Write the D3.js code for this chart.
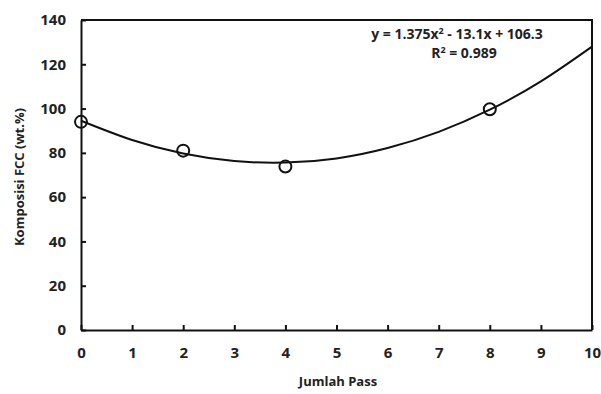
<!DOCTYPE html>
<html>
<head>
<meta charset="utf-8">
<script src="https://cdn.jsdelivr.net/npm/d3@7"></script>
<style>
  body { margin: 0; background: #fff; }
  text { font-family: "Open Sans", sans-serif; font-weight: bold; fill: #222; }
</style>
</head>
<body>
<script>
// measured points
const passes = [0, 2, 4, 8];
const fccValues = [94, 81, 73.8, 99.7];

// trendline
const trendX = [0, 1, 2, 3, 4, 5, 6, 7, 8, 9, 10];
const trendY = [94.5, 85.8, 79.7, 76.3, 75.6, 77.5, 82.2, 89.5, 99.5, 112.3, 128];

const xTicks = [0, 1, 2, 3, 4, 5, 6, 7, 8, 9, 10];
const yTicks = [0, 20, 40, 60, 80, 100, 120, 140];

const w = 601, h = 394;
const margin = {left: 81, right: 9, top: 20, bottom: 64};

const svg = d3.select("body").append("svg")
    .attr("width", w)
    .attr("height", h);

const xScale = d3.scaleLinear()
    .domain([0, 10])
    .range([margin.left, w - margin.right]);

const yScale = d3.scaleLinear()
    .domain([0, 140])
    .range([h - margin.bottom, margin.top]);

// box top + right
svg.append("path")
    .attr("d", "M" + xScale(0) + "," + yScale(140) + "H" + xScale(10) + "V" + yScale(0))
    .attr("fill", "none")
    .attr("stroke", "#111")
    .attr("stroke-width", 2);

const xAxis = d3.axisBottom(xScale).tickValues(xTicks).tickSizeInner(-5).tickSizeOuter(0).tickPadding(17);
const yAxis = d3.axisLeft(yScale).tickValues(yTicks).tickSizeInner(-5).tickSizeOuter(0).tickPadding(15);

const gx = svg.append("g")
    .attr("transform", "translate(0," + yScale(0) + ")")
    .call(xAxis);
const gy = svg.append("g")
    .attr("transform", "translate(" + xScale(0) + ",0)")
    .call(yAxis);

[gx, gy].forEach(g => {
    g.select(".domain").attr("stroke", "#111").attr("stroke-width", 2);
    g.selectAll(".tick line").attr("stroke", "#111").attr("stroke-width", 2);
    g.selectAll(".tick text")
        .style("font-family", "'Open Sans', sans-serif")
        .style("font-weight", "bold")
        .style("font-size", "15px")
        .attr("fill", "#222");
});

// trendline
const line = d3.line()
    .x((d, i) => xScale(trendX[i]))
    .y(d => yScale(d))
    .curve(d3.curveNatural);

svg.append("path")
    .datum(trendY)
    .attr("d", line)
    .attr("fill", "none")
    .attr("stroke", "#111")
    .attr("stroke-width", 2);

svg.selectAll("circle.pt")
    .data(passes)
    .enter()
    .append("circle")
    .attr("class", "pt")
    .attr("cx", d => xScale(d))
    .attr("cy", (d, i) => yScale(fccValues[i]))
    .attr("r", 6)
    .attr("fill", "none")
    .attr("stroke", "#111")
    .attr("stroke-width", 2);

// equation
const eq = svg.append("text")
    .attr("x", 457)
    .attr("y", 39)
    .attr("text-anchor", "middle")
    .style("font-size", "14px");
eq.append("tspan").text("y = 1.375x");
eq.append("tspan").attr("dy", -5).style("font-size", "9px").text("2");
eq.append("tspan").attr("dy", 5).text(" - 13.1x + 106.3");

const r2 = svg.append("text")
    .attr("x", 464)
    .attr("y", 58)
    .attr("text-anchor", "middle")
    .style("font-size", "14px");
r2.append("tspan").text("R");
r2.append("tspan").attr("dy", -5).style("font-size", "9px").text("2");
r2.append("tspan").attr("dy", 5).text(" = 0.989");

// axis titles
svg.append("text")
    .attr("x", 338)
    .attr("y", 386)
    .attr("text-anchor", "middle")
    .style("font-size", "13px")
    .text("Jumlah Pass");

svg.append("text")
    .attr("transform", "translate(24," + 177 + ") rotate(-90)")
    .attr("text-anchor", "middle")
    .style("font-size", "13px")
    .text("Komposisi FCC (wt.%)");
</script>
</body>
</html>
